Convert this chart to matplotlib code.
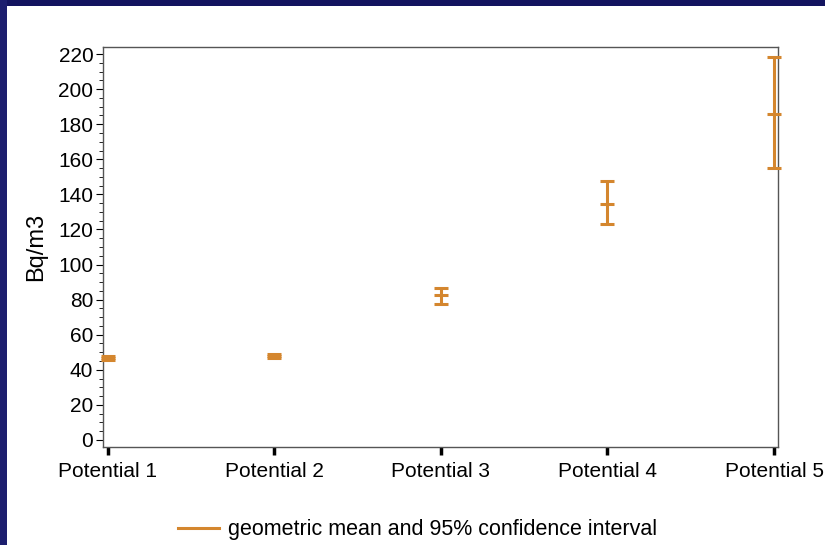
import numpy as np
import matplotlib
matplotlib.use("Agg")
import matplotlib.pyplot as plt
from matplotlib.lines import Line2D
from matplotlib.patches import Rectangle
from matplotlib.ticker import MultipleLocator

plt.rcParams['font.family'] = ['Liberation Sans', 'DejaVu Sans']

# data (geometric mean and 95% CI, Bq/m3)
categories = ['Potential 1', 'Potential 2', 'Potential 3', 'Potential 4', 'Potential 5']
gmean = [46.7, 47.9, 82.6, 134.3, 185.6]
ci_low = [45.5, 46.7, 77.3, 122.9, 154.9]
ci_high = [48.0, 49.1, 86.5, 147.8, 218.5]
y_ticks = list(range(0, 221, 20))

color = '#D4862E'
navy = '#13145F'

fig = plt.figure(figsize=(8.25, 5.45), dpi=100, facecolor='white')
# dark slide border (top and left)
fig.patches.append(Rectangle((0, 1 - 6 / 545), 1, 6 / 545, transform=fig.transFigure,
                             facecolor=navy, edgecolor='none', zorder=0))
fig.patches.append(Rectangle((0, 0), 7 / 825, 1, transform=fig.transFigure,
                             facecolor='#1C1E6E', edgecolor='none', zorder=0))

ax = fig.add_axes([103 / 825, 98 / 545, 675 / 825, 400 / 545])
x = np.arange(1, len(categories) + 1)
mean = np.array(gmean)
yerr = [mean - np.array(ci_low), np.array(ci_high) - mean]
ax.errorbar(x, mean, yerr=yerr, fmt='_', color=color, ecolor=color,
            elinewidth=2.2, capsize=4.7, capthick=2.2, markersize=9.4, mew=2.2,
            clip_on=False, zorder=3)

ax.set_xlim(0.972, 5.024)
ax.set_ylim(-4, 224)
ax.set_xticks(x)
ax.set_xticklabels(categories, fontsize=15)
ax.set_yticks(y_ticks)
ax.tick_params(axis='y', labelsize=15, length=5, width=0.8, direction='out', colors='black', pad=2)
ax.yaxis.set_minor_locator(MultipleLocator(5))
ax.tick_params(axis='y', which='minor', length=3, width=0.6)
ax.tick_params(axis='x', length=6, width=2.5, direction='out', pad=5)
ax.set_ylabel('Bq/m3', fontsize=17, labelpad=8)
for s in ax.spines.values():
    s.set_color('#555555')
    s.set_linewidth(1.0)

handle = Line2D([], [], color=color, lw=2.2)
fig.legend([handle], ['geometric mean and 95% confidence interval'], loc='center',
           bbox_to_anchor=(0.506, 15 / 545), frameon=False, fontsize=15.5,
           handlelength=1.9, handletextpad=0.4)

plt.savefig('out.png', dpi=100, facecolor='white')
plt.close(fig)
